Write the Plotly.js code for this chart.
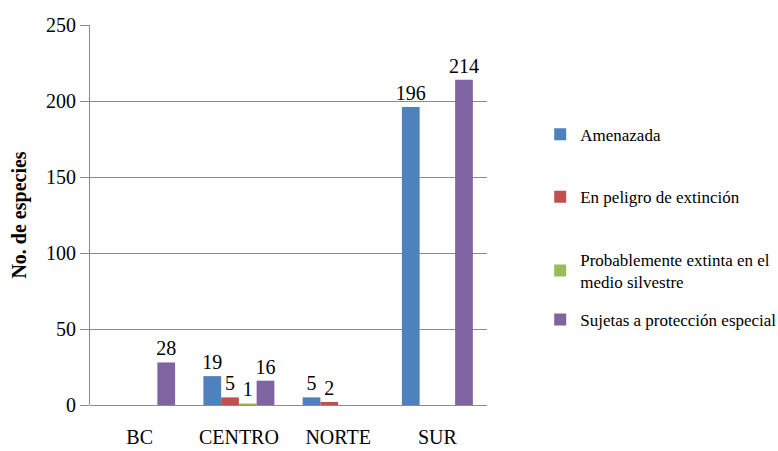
<!DOCTYPE html>
<html>
<head>
<meta charset="utf-8">
<script src="https://cdn.plot.ly/plotly-3.0.1.min.js"></script>
<style>html,body{margin:0;padding:0;background:#fff;}#chart{width:778px;height:451px;}</style>
</head>
<body>
<div id="chart"></div>
<script>
const categories = ["BC", "CENTRO", "NORTE", "SUR"];
const seriesNames = ["Amenazada", "En peligro de extinción", "Probablemente extinta en el<br>medio silvestre", "Sujetas a protección especial"];
const amenazada = [0, 19, 5, 196];
const enPeligro = [0, 5, 2, 0];
const probExtinta = [0, 1, 0, 0];
const sujetas = [28, 16, 0, 214];
const colors = ["#4F81BD", "#C0504D", "#9BBB59", "#8064A2"];
const yTicks = [0, 50, 100, 150, 200, 250];

const serif = "Liberation Serif";
const allSeries = [amenazada, enPeligro, probExtinta, sujetas];
const legendIds = ["legend", "legend2", "legend3", "legend4"];
const legendY = [0.711, 0.547, 0.353, 0.224];

const traces = allSeries.map((vals, i) => ({
  type: "bar",
  name: seriesNames[i],
  x: categories,
  y: vals,
  text: vals.map(v => v === 0 ? "" : String(v)),
  textposition: "outside",
  constraintext: "none",
  cliponaxis: false,
  textfont: {family: serif, size: 20, color: "#000"},
  marker: {color: colors[i]},
  legend: legendIds[i],
  hoverinfo: "x+y"
}));

const layout = {
  width: 778, height: 451,
  margin: {l: 90, r: 291, t: 25, b: 46, autoexpand: false},
  paper_bgcolor: "#fff", plot_bgcolor: "#fff",
  font: {family: serif},
  barmode: "group",
  bargap: 0.285,
  bargroupgap: 0,
  showlegend: true,
  xaxis: {
    showgrid: false,
    showline: false,
    zeroline: false,
    ticks: "",
    ticklabelstandoff: 18,
    tickfont: {family: serif, size: 20, color: "#000"}
  },
  yaxis: {
    range: [0, 250],
    tickvals: yTicks,
    ticktext: yTicks.map(String),
    showgrid: true,
    gridcolor: "#8c8c8c",
    gridwidth: 1,
    zeroline: true,
    zerolinecolor: "#8c8c8c",
    showline: true,
    linecolor: "#8c8c8c",
    ticks: "outside",
    ticklen: 9,
    tickcolor: "#8c8c8c",
    tickfont: {family: serif, size: 20, color: "#000"},
    title: {text: "<b>No. de especies</b>", font: {family: serif, size: 20, color: "#000"}, standoff: 14}
  }
};

legendIds.forEach((id, i) => {
  layout[id] = {
    x: 1.134, y: legendY[i], xanchor: "left", yanchor: "middle",
    font: {family: serif, size: 17, color: "#000"},
    itemwidth: 30,
    bgcolor: "rgba(0,0,0,0)"
  };
});

Plotly.newPlot("chart", traces, layout, {displayModeBar: false, staticPlot: true});
</script>
</body>
</html>
